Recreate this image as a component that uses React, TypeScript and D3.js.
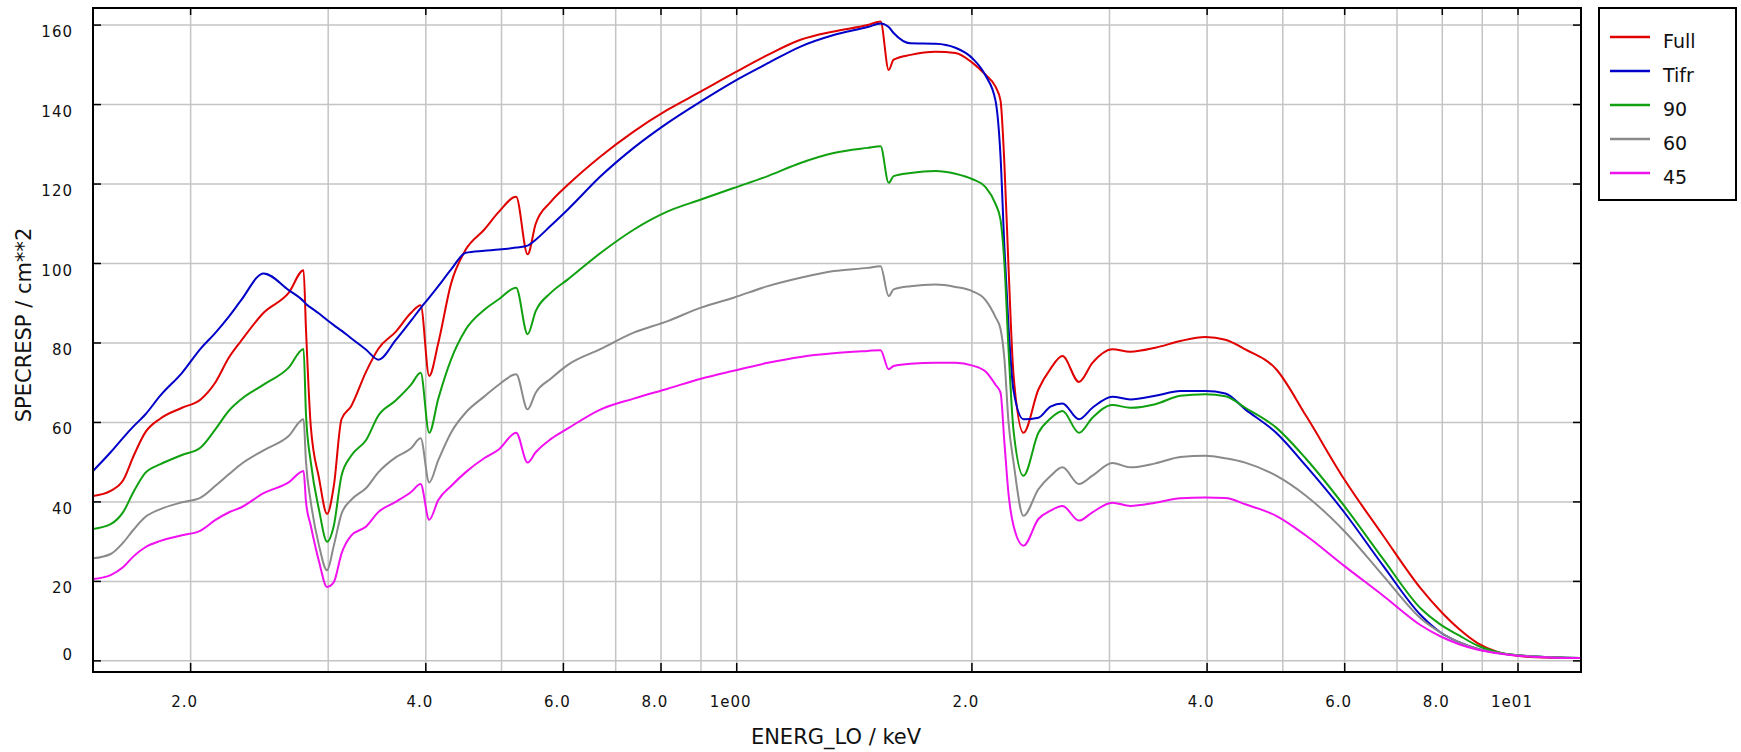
import React from "react";
import * as d3 from "d3";

// Energy grid (keV) shared by all series
const energy = [0.150,0.158,0.164,0.169,0.175,0.183,0.195,0.206,0.215,0.224,0.232,0.248,0.267,0.279,0.281,0.285,0.292,0.299,0.305,0.312,0.321,0.3355,0.348,0.366,0.383,0.394,0.404,0.415,0.431,0.450,0.475,0.496,0.522,0.540,0.553,0.578,0.608,0.670,0.738,0.816,0.900,0.991,1.096,1.207,1.331,1.471,1.528,1.565,1.588,1.669,1.797,1.905,2.004,2.082,2.144,2.176,2.201,2.228,2.261,2.328,2.433,2.521,2.612,2.742,2.853,3.025,3.19,3.434,3.697,3.979,4.221,4.476,4.903,5.357,5.992,6.722,7.516,7.951,8.406,8.887,9.428,9.97,10.55,12.0];

const fullResp = [41.5,42.8,45.5,51.5,57.5,61,63.7,65.8,70,76.4,80.5,87.6,92.6,98.3,83.4,59,46,37,44,60.8,64.1,72.8,78.6,82.8,87.6,89.5,71.7,80,95,103.5,108.5,113,116.8,102.3,110,115.5,119.8,127,133.2,138.7,143.3,147.9,152.5,156.3,158.4,160,160.9,148.7,151.3,152.5,153.3,153,150.5,147.5,144.5,141,125,99,72,57.4,68.3,73.5,76.7,70.2,75,78.4,77.8,78.8,80.5,81.5,80.8,78.4,73.4,61.6,45.7,31.5,18.1,12.6,8,4.4,2.2,1.3,0.9,0.7];
const tifrResp = [47.8,52.5,56.2,59,62,66.8,72.5,78.6,82.5,86.7,90.7,97.5,93.3,90.5,89.8,88.9,87.4,85.8,84.5,83.1,81.2,78.3,75.8,80.7,85.6,88.8,91.4,94.3,98.5,102.7,103.2,103.5,104,104.5,106,109.5,113.6,122,129.1,135.4,140.8,145.8,150.4,154.6,157.5,159.5,160.4,159.5,158,155.4,155.3,154.3,151.6,147.3,141,127,104,84,68,60.8,61.2,64,64.8,60.8,63.7,66.5,65.8,66.7,67.9,67.9,67.3,63.3,57.4,49,37.4,23.9,11.4,7.2,4.7,3,2,1.4,1.1,0.7];
const resp90 = [33.2,34.4,37.5,42.5,47.3,49.5,51.8,53.7,58.2,63,65.8,69.5,73.8,78.5,62,50,38,30,34,46.6,51.6,55.6,61.8,65.5,69.5,72.5,57.4,66,75.9,83.4,88.3,91,93.9,82.2,88,92.6,96,102.7,108.5,113.1,116.1,119,122,125.3,127.8,129.1,129.5,120.3,122,122.8,123.3,122.6,121.2,119.2,115,111,100,78.4,58,46.6,57.4,61,62.9,57.4,61.2,64.4,63.7,64.6,66.7,67.1,66.6,63.7,58.7,50.8,39,25.6,13.1,9.2,6.4,3.8,2.2,1.4,1.1,0.7];
const resp60 = [25.8,26.9,29.8,33,36.2,38.2,39.9,41.1,44,47,49.5,53,56.6,60.8,50,40,29,22.8,29,37,40.5,43.5,47.5,51.2,53.5,56,44.9,50.5,57.5,62.5,66.5,69.5,72.1,63.3,67.5,71,74.5,78.5,82.6,85.5,88.9,91.4,94.3,96.4,98.1,98.9,99.3,91.8,93.5,94.3,94.7,94.1,93,90.8,86.5,83.5,76,60,50,36.5,43.2,46.5,48.7,44.5,46.6,49.8,48.7,49.7,51.3,51.6,51,49.9,46.6,41.5,32.7,21.4,10.6,7.2,4.7,3,2,1.4,1.1,0.7];
const resp45 = [20.6,21.6,23.6,26.3,28.6,30.2,31.6,32.8,35.4,37.4,38.6,42.2,44.9,47.8,40,34,25,18.6,19.8,27,31.5,33.8,37.5,40,42.5,44.5,35.5,40.5,44,47.5,51,53.2,57.4,49.9,52.5,55.8,58.5,63.3,66,68.5,71,73,75,76.5,77.4,78,78.2,73.4,74.2,74.8,75,75,74.3,72.8,69.5,67.5,55,42,34,29,35.7,37.8,39,35.3,37.4,39.8,39,39.8,40.9,41.1,41,39.4,36.5,31.5,23.9,16.4,8.9,6.2,4.2,2.8,1.9,1.3,1.0,0.7];

const seriesNames = ["Full", "Tifr", "90", "60", "45"];
const seriesColors = ["#e00000", "#0000c8", "#10a010", "#8a8a8a", "#f010f0"];
const seriesValues = [fullResp, tifrResp, resp90, resp60, resp45];

const xTickValues = [0.2, 0.4, 0.6, 0.8, 1, 2, 4, 6, 8, 10];
const xTickLabels = ["2.0", "4.0", "6.0", "8.0", "1e00", "2.0", "4.0", "6.0", "8.0", "1e01"];
const yTickValues = [0, 20, 40, 60, 80, 100, 120, 140, 160];

const xTitle = "ENERG_LO / keV";
const yTitle = "SPECRESP / cm**2";

export default function App() {
  const W = 1741, H = 752;
  const left = 93, right = 1581, top = 8, bottom = 672;
  const x = d3.scaleLog().domain([0.15, 12.04]).range([left, right]);
  const y = d3.scaleLinear().domain([-2.8, 164.3]).range([bottom, top]);
  const gridX = x.ticks();
  const line = d3
    .line<number>()
    .x((_, i) => x(energy[i]))
    .y((v) => y(v))
    .curve(d3.curveMonotoneX);
  const font = "'DejaVu Sans', Verdana, sans-serif";

  return (
    <svg width={W} height={H} style={{ position: "absolute", left: 0, top: 0, background: "#fff" }} fontFamily={font}>
      <rect x={0} y={0} width={W} height={H} fill="#fff" />
      <defs>
        <clipPath id="plotclip">
          <rect x={left} y={top} width={right - left} height={bottom - top} />
        </clipPath>
      </defs>
      {/* grid */}
      {gridX.map((t, i) => (
        <line key={"gx" + i} x1={x(t)} x2={x(t)} y1={top} y2={bottom} stroke="#c4c4c4" strokeWidth={1.5} />
      ))}
      {yTickValues.map((t, i) => (
        <line key={"gy" + i} x1={left} x2={right} y1={y(t)} y2={y(t)} stroke="#c4c4c4" strokeWidth={1.5} />
      ))}
      {/* series */}
      <g clipPath="url(#plotclip)">
        {seriesValues.map((vals, si) => (
          <path key={"s" + si} d={line(vals) || ""} fill="none" stroke={seriesColors[si]} strokeWidth={2} strokeLinejoin="round" />
        ))}
      </g>
      {/* frame */}
      <rect x={left} y={top} width={right - left} height={bottom - top} fill="none" stroke="#000" strokeWidth={2} />
      {/* ticks */}
      {yTickValues.map((t, i) => (
        <g key={"yt" + i}>
          <line x1={left} x2={left + 8} y1={y(t)} y2={y(t)} stroke="#000" strokeWidth={1.5} />
          <line x1={right - 8} x2={right} y1={y(t)} y2={y(t)} stroke="#000" strokeWidth={1.5} />
          <text x={73} y={t === 0 ? y(t) - 1 : y(t) + 12} textAnchor="end" fontSize={15} letterSpacing={1} fill="#111">
            {String(t)}
          </text>
        </g>
      ))}
      {xTickValues.map((t, i) => (
        <g key={"xt" + i}>
          <line x1={x(t)} x2={x(t)} y1={bottom} y2={bottom - 9} stroke="#000" strokeWidth={1.5} />
          <line x1={x(t)} x2={x(t)} y1={top} y2={top + 7} stroke="#000" strokeWidth={1.5} />
          <text x={x(t) - 6} y={707} textAnchor="middle" fontSize={15} letterSpacing={1} fill="#111">
            {xTickLabels[i]}
          </text>
        </g>
      ))}
      {/* axis titles */}
      <text x={836} y={744} textAnchor="middle" fontSize={21} fill="#111">{xTitle}</text>
      <text transform="translate(31,325) rotate(-90)" textAnchor="middle" fontSize={21} fill="#111">{yTitle}</text>
      {/* legend */}
      <rect x={1599} y={8} width={137} height={192} fill="#fff" stroke="#000" strokeWidth={2} />
      {seriesNames.map((n, i) => {
        const ly = 37 + i * 34;
        return (
          <g key={"lg" + i}>
            <line x1={1610} x2={1650} y1={ly} y2={ly} stroke={seriesColors[i]} strokeWidth={2.5} />
            <text x={1663} y={ly + 11} fontSize={19} fill="#111">{n}</text>
          </g>
        );
      })}
    </svg>
  );
}
